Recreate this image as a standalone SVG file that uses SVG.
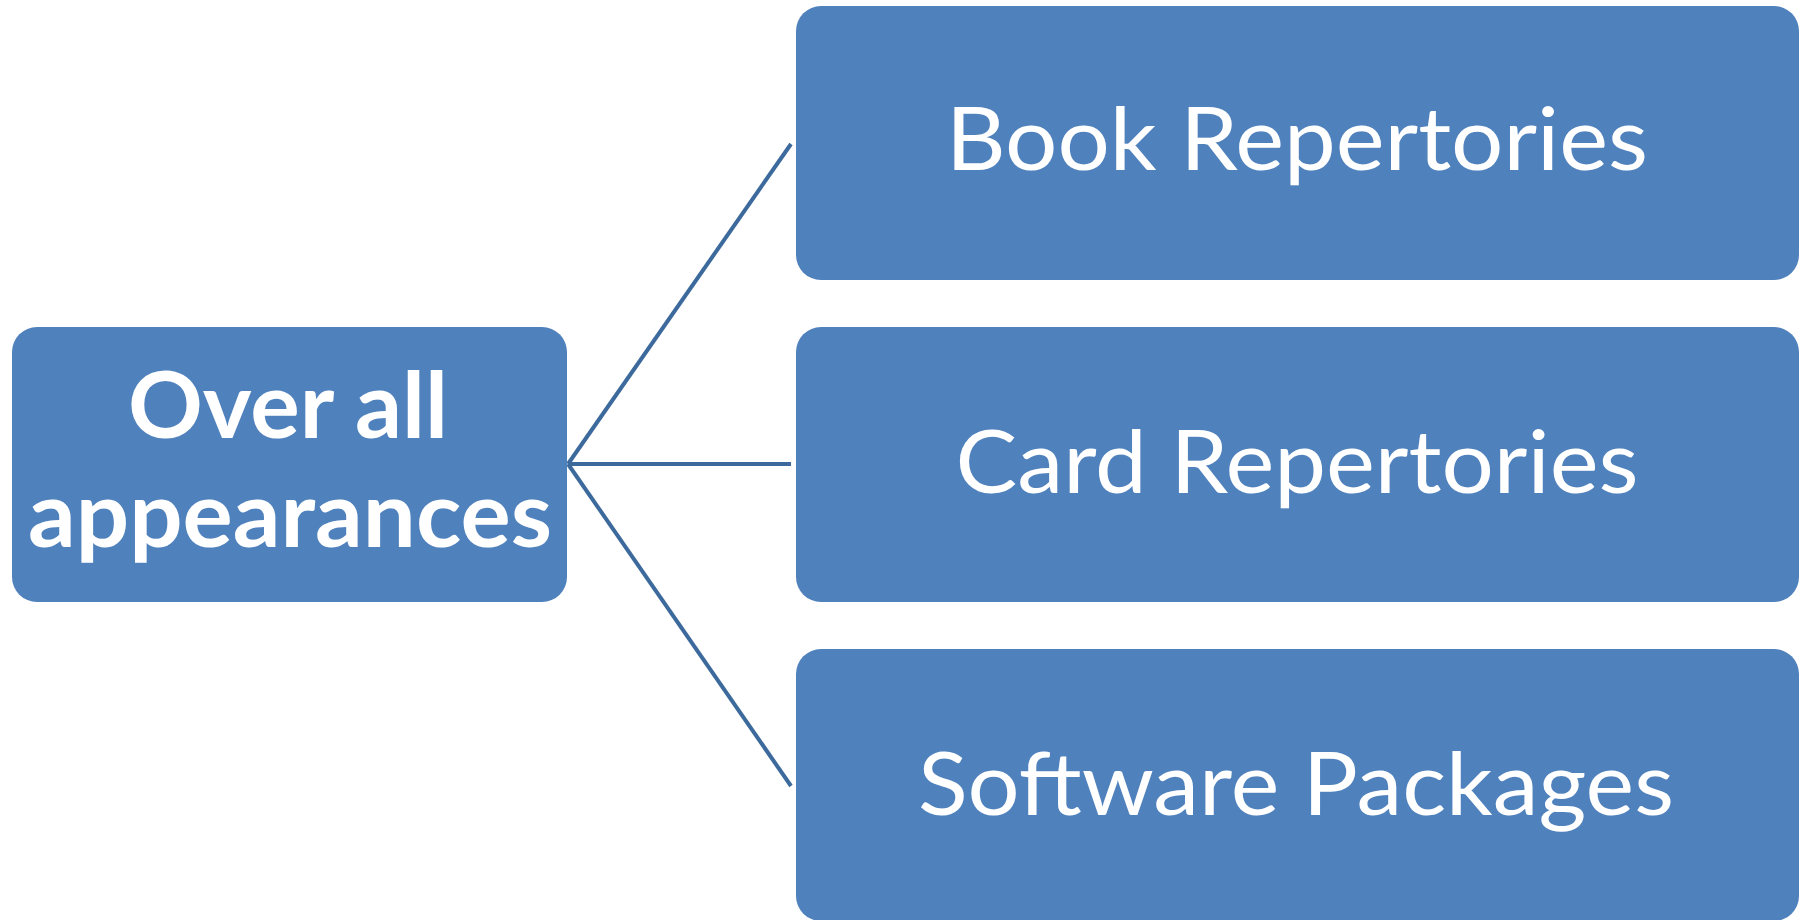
<svg xmlns="http://www.w3.org/2000/svg" width="1807" height="920" viewBox="0 0 1807 920">
<style>
.box{fill:#4f81bd;}
.lbl{fill:#ffffff;font-family:Lato,"Open Sans","Liberation Sans",sans-serif;text-anchor:middle;}
.n{font-size:88px;}
.b{font-size:92px;font-weight:bold;}
.conn{stroke:#3d6a9c;stroke-width:4;fill:none;}
</style>
<rect width="1807" height="920" fill="#ffffff"/>
<g id="connectors">
<line class="conn" x1="568" y1="464" x2="791" y2="144"/>
<line class="conn" x1="568" y1="464" x2="791" y2="464"/>
<line class="conn" x1="568" y1="464" x2="791" y2="786"/>
</g>
<g id="node-overall">
<rect class="box" x="12" y="327" width="555" height="275" rx="25"/>
<text class="lbl b" x="288" y="438" textLength="320" lengthAdjust="spacingAndGlyphs">Over all</text>
<text class="lbl b" x="290" y="547" textLength="524" lengthAdjust="spacingAndGlyphs">appearances</text>
</g>
<g id="node-book">
<rect class="box" x="796" y="6" width="1003" height="274" rx="25"/>
<text class="lbl n" x="1297" y="170" textLength="702" lengthAdjust="spacingAndGlyphs">Book Repertories</text>
</g>
<g id="node-card">
<rect class="box" x="796" y="327" width="1003" height="275" rx="25"/>
<text class="lbl n" x="1297" y="493" textLength="683" lengthAdjust="spacingAndGlyphs">Card Repertories</text>
</g>
<g id="node-software">
<rect class="box" x="796" y="649" width="1003" height="272" rx="25"/>
<text class="lbl n" x="1296" y="815" textLength="756" lengthAdjust="spacingAndGlyphs">Software Packages</text>
</g>
</svg>
